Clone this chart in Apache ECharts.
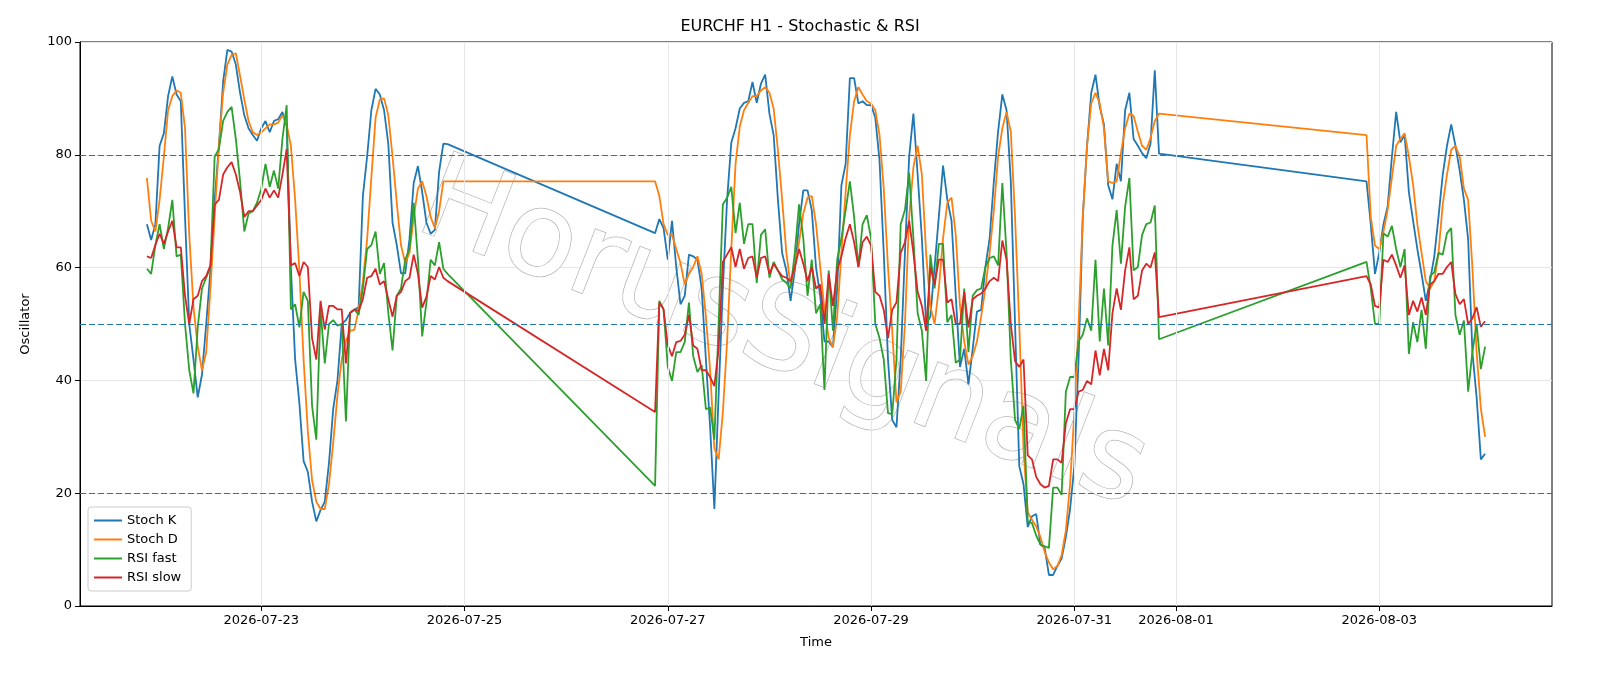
<!DOCTYPE html>
<html>
<head>
<meta charset="UTF-8" />
<title>EURCHF H1 - Stochastic & RSI</title>
<style>
  html, body { margin: 0; padding: 0; overflow: hidden; }
  #main { width: 100vw; height: 100vh; background: #fff; }
</style>
</head>
<body>
<div id="main"></div>
<script src="https://cdn.jsdelivr.net/npm/echarts@6/dist/echarts.min.js"></script>
<script>
// hourly bars, three trading blocks (weekends skipped)
const segmentStarts = ["2026-07-21T21:00:00Z", "2026-07-26T21:00:00Z", "2026-08-02T21:00:00Z"];

const stochK = [
  // block 1
  67.7, 64.9, 67.7, 81.6, 83.8, 90.4, 93.9, 90.7, 89.5, 69, 50, 43.7, 37, 41, 50, 59.5, 72, 81.6, 93, 98.6,
  98.3, 96, 91, 87, 84.7, 83.5, 82.5, 84.7, 86, 84, 86, 86.3, 87.6, 85,
  60, 43.7, 36, 25.7, 23.8, 18.5, 15, 17, 18.5, 25.4, 35, 40, 50, 50.7, 52, 52.5, 53, 72.7, 79.7, 87.9,
  91.7, 90.7, 87.9, 82, 68, 64, 59, 59, 65, 75, 78, 73.4, 68, 66, 66.7, 77, 82, 81.9,
  // block 2
  66.1, 68.6, 67, 61.4, 68.3, 60.1, 53.5, 55, 62.3, 62, 61.4, 56.3, 43.7, 31.7, 17.2, 37.4, 56.3, 72, 82.2, 84.7,
  88.2, 89.2, 89.5, 92.9, 89.2, 92.6, 94.2,
  87.3, 83.5, 72.1, 62.6, 59.5, 54.1, 59.5, 67.7, 73.7, 73.7, 70.2, 60.1, 55, 46.9, 46.9, 45.9, 56.3, 74.6, 78.4, 93.6,
  93.6, 89.1, 89.5, 88.8, 88.8, 86.6, 79, 62.6, 43.7, 33,
  31.7, 43.7, 62.6, 79.7, 87.3, 76.5, 65.2, 50, 51.3, 60.1, 69, 78.1, 72.1, 68.3, 55, 42.4, 45.6, 39.3, 45.6, 52.2,
  52.5, 60.1, 65.2, 75.3, 84.1, 90.7, 87.9, 75.3, 50, 24.8,
  21.6, 14, 15.9, 16.3, 10.9, 10.3, 5.5, 5.5, 7.1, 8.4, 12.2, 17.2, 24.8, 43.7, 69, 81.6, 91, 94.2, 88.5, 85.4,
  74.6, 72.1, 78.4, 75.3, 87.9, 91, 82.8, 81.6, 80.3, 79.4, 82, 95, 80.2,
  // block 3
  75.3, 67.7, 58.9, 62.6, 67.7, 70.9, 79.7, 87.6, 82.2, 83.5, 73.4, 68.3, 63.3, 58.9, 54.1, 57.6, 62, 69, 76.5, 81.6,
  85.4, 81.6, 77.2, 72, 65, 45, 37, 26, 27
];
const stochD = [
  75.9, 68.3, 66.4, 72, 79.7, 87.9, 90.4, 91.4, 91, 84.7, 65.8, 53, 46, 41.8, 45, 56.3, 69, 81.6, 91, 96,
  97.7, 98, 94, 89.8, 86, 84, 83.5, 84, 84.7, 85.4, 85.4, 85.7, 87, 85.4,
  81.6, 72, 59.5, 43.7, 31, 22.3, 18.5, 17.2, 17.2, 21.6, 29, 37.4, 43.7, 47, 48.8, 49, 52.5, 57.6, 65, 76,
  86.6, 89.8, 90, 87, 79.7, 71.5, 64, 60.8, 62.6, 69, 74, 75.3, 72.7, 69, 67, 70, 75.3, 75.3,
  75.3, 72.7, 67.7, 65.8, 65.8, 63.3, 60.8, 57, 58.9, 60.1, 62, 58.9, 51.3, 41.8, 28, 26, 34.3, 46.8, 63.3, 78.4,
  85, 87.9, 89.2, 90.4, 90.4, 91.4, 92,
  91, 88.2, 80.9, 72.1, 62.6, 56.9, 60.1, 64.5, 69.6, 72.4, 72.7, 67.7, 60.1, 52.5, 47.5, 45.9, 51.3, 62.6, 73.4, 83.5,
  89.5, 92, 90.7, 89.5, 89.1, 87.9, 83.5, 74, 60.1, 48.8,
  36.1, 38, 50, 69, 77.8, 81.6, 76.5, 62.6, 53.2, 50, 56.3, 65.2, 71.5, 72.4, 65.8, 53.2, 46.9, 42.8, 44.3, 46.9,
  51.3, 56.3, 62.6, 70.2, 79.7, 84.7, 87.6, 84.1, 69, 50,
  27.9, 16.6, 15.3, 14.1, 12.2, 9.6, 7.7, 6.5, 7.1, 9, 13.4, 21.6, 34.2, 50, 69, 81.6, 89.1, 91, 89.1, 84.7,
  75.3, 75, 75.3, 80.3, 84.7, 87.3, 86.9, 84.1, 81.6, 80.9, 83, 86, 87.3,
  83.5, 69, 63.9, 63.3, 66.4, 70.3, 76, 81.6, 82.8, 83.8, 79.7, 74.7, 67.7, 62.6, 57.6, 56.3, 57.6, 62.6, 71.2, 76.5,
  80.9, 81.6, 79.7, 74, 72, 60, 45, 35, 30
];
const rsiFast = [
  59.8, 58.9, 64, 67.7, 63.3, 67, 72, 62, 62.3, 50, 41.8, 37.7, 49.4, 56.3, 58.2, 60.1, 79.7, 81, 86, 87.6,
  88.5, 82.8, 75.3, 66.4, 69.6, 70, 71.5, 74, 78.4, 74.3, 77.2, 74, 82.8, 88.8,
  52.6, 53.5, 49.4, 55.7, 54.1, 35.5, 29.5, 52.6, 43, 50, 50.7, 49.7, 50, 32.7, 52, 52.6, 51.6, 56.3, 63.3, 64,
  66.4, 58.9, 60.8, 52, 45.3, 55, 56.3, 61.4, 63.3, 71.5, 61.4, 47.8, 53.8, 61.4, 60.4, 64.5, 59.8, 58.9,
  21.3, 54.1, 52.6, 42.4, 39.9, 45, 45, 46.8, 53.8, 44.3, 41.5, 42.7, 34.9, 35.2, 29.5, 50, 71.2, 72.4, 74.3, 66.1,
  71.5, 64.2, 67.7, 67.7, 57.3, 65.8, 66.8,
  58.2, 61, 59.5, 57.9, 57.3, 56.3, 62.6, 71.2, 65.2, 55, 61.4, 51.9, 53.5, 38.3, 59.5, 48.8, 61.4, 65.2, 70.2, 75.3,
  69, 60.1, 67.7, 69.3, 65.2, 50, 47.5, 43.7, 34.2, 34,
  43.7, 67.7, 70.2, 76.8, 65.2, 51.9, 48.8, 39.9, 62.3, 56.3, 64.2, 64.2, 50.3, 51.6, 43.1, 43.7, 56.3, 45, 55, 56,
  56.3, 60.1, 61.7, 62, 60.4, 75, 62.6, 43.7, 33, 31.4,
  35.5, 15, 14.7, 12.5, 10.9, 10.6, 10.3, 21, 21, 19.7, 38, 40.6, 40.6, 46.9, 48.1, 51, 48.8, 61.4, 46.9, 56.3,
  46.2, 63.9, 70.2, 60.7, 70.8, 75.9, 59.5, 60.1, 65.8, 67.7, 68, 71, 47.3,
  61, 56.3, 50, 50, 66.1, 65.5, 67.4, 63.3, 60.1, 63.3, 44.7, 50.3, 46.8, 52.5, 45.6, 58.5, 59.2, 62.6, 62.3, 66.1,
  67, 51.6, 48.1, 50.6, 38, 45, 50, 42, 46
];
const rsiSlow = [
  62, 61.7, 64, 66, 64.2, 66.4, 68.3, 63.6, 63.6, 55, 50, 54.4, 55, 57.6, 58.5, 60.4, 71.2, 72, 76.5, 77.8,
  78.7, 76.5, 73.4, 69, 70, 70, 71, 72, 74, 72.4, 73.7, 72.4, 76.5, 81,
  60.4, 60.8, 58.5, 61, 60.1, 47.5, 43.7, 54.1, 49, 53.2, 53.2, 52.6, 52.6, 43, 52, 52.6, 52.3, 54.4, 58.2, 58.5,
  59.8, 57, 57.6, 54.4, 51.3, 55, 55.7, 57.6, 58.2, 62.3, 58.9, 52.9, 54.8, 58.5, 57.9, 60.1, 58.2, 57.6,
  34.4, 53.8, 52.6, 46.2, 44.3, 46.8, 47, 48.1, 51.6, 46.2, 45.6, 41.8, 41.8, 40.6, 39, 45.6, 61, 62.3, 63.6, 60.1,
  63.3, 59.8, 61.7, 62, 58.2, 61.7, 62,
  58.9, 60.7, 59.5, 58.5, 58.2, 57.6, 60.1, 63.3, 60.7, 57.6, 60.1, 56.3, 57, 50, 58.9, 53.2, 59.5, 62, 65.2, 67.7,
  64.5, 60.1, 64.5, 65.5, 63.9, 55.7, 55, 52.5, 47.5, 52.5,
  53.8, 62.6, 64.5, 68.3, 62.6, 55.7, 53.2, 48.8, 60.1, 57, 61.4, 61.4, 53.8, 54.4, 50, 50, 55.7, 49.4, 54.4, 55,
  55.4, 56.3, 57.6, 58.2, 57.6, 64.8, 61.4, 50, 43.4, 42.4,
  43.7, 26.7, 26, 22.9, 21.6, 21, 21.3, 26, 26, 25.4, 32.4, 34.9, 34.9, 38, 38.3, 39.9, 39.3, 45.3, 40.9, 45.6,
  41.8, 51.9, 56.3, 52.5, 59.5, 63.6, 54.4, 55, 59.5, 60.7, 60, 62.7, 51.2,
  58.5, 57, 53.2, 52.9, 61.4, 61, 62.3, 60.4, 58.2, 60.4, 51.6, 54.1, 52.2, 54.7, 51.6, 57, 57.6, 58.9, 58.9, 60.1,
  61, 55.3, 53.5, 54.4, 50, 51, 53, 49.5, 50.5
];
const segmentLengths = [72, 120, 29];
const xTickLabels = ["2026-07-23", "2026-07-25", "2026-07-27", "2026-07-29", "2026-07-31", "2026-08-01", "2026-08-03"];
const levels = [20, 50, 80];

const HOUR = 3600 * 1000;
const times = [];
segmentStarts.forEach((s, i) => {
  const t0 = Date.parse(s);
  for (let h = 0; h < segmentLengths[i]; h++) times.push(t0 + h * HOUR);
});
const pair = (arr) => arr.map((v, i) => [times[i], v]);

const tickTimes = xTickLabels.map((d) => Date.parse(d + "T00:00:00Z"));
const span = times[times.length - 1] - times[0];
const xMin = times[0] - span * 0.05;
const xMax = times[times.length - 1] + span * 0.05;

const chart = echarts.init(document.getElementById("main"));
const lineSeries = (name, data, color) => ({
  name, type: "line", data: pair(data), showSymbol: false, symbol: "none",
  lineStyle: { color, width: 1.8 }, itemStyle: { color }, z: 3, animation: false
});

chart.setOption({
  animation: false,
  title: {
    text: "EURCHF H1 - Stochastic & RSI", left: "center", top: 14,
    textStyle: { fontFamily: "DejaVu Sans", fontWeight: "normal", fontSize: 16, color: "#000" }
  },
  graphic: [{
    type: "text", x: 782, y: 338, rotation: -0.37, z: 1,
    style: {
      text: "HorusSignals", fontFamily: "DejaVu Sans", fontSize: 118,
      fill: "#ffffff", stroke: "#b5b5b5", lineWidth: 1.5,
      textAlign: "center", textVerticalAlign: "middle",
      shadowColor: "rgba(0,0,0,0.35)", shadowOffsetX: 3, shadowOffsetY: 4, shadowBlur: 3
    }
  }],
  legend: {
    data: ["Stoch K", "Stoch D", "RSI fast", "RSI slow"],
    orient: "vertical", left: 88, top: 507, itemGap: 6,
    itemWidth: 28, itemHeight: 2, icon: "rect",
    padding: [7, 10, 7, 6], backgroundColor: "rgba(255,255,255,0.85)",
    borderColor: "#ccc", borderWidth: 1, borderRadius: 3,
    textStyle: { fontFamily: "DejaVu Sans", fontSize: 13, color: "#000" }
  },
  grid: { left: 80, right: 48, top: 42, bottom: 80, show: true, borderColor: "#000", borderWidth: 1 },
  xAxis: {
    type: "value", min: xMin, max: xMax,
    name: "Time", nameLocation: "middle", nameGap: 30,
    nameTextStyle: { fontFamily: "DejaVu Sans", fontSize: 13, color: "#000" },
    axisLine: { onZero: false, lineStyle: { color: "#000" } },
    axisTick: { customValues: tickTimes, length: 5, lineStyle: { color: "#000" } },
    axisLabel: {
      customValues: tickTimes, color: "#000", fontFamily: "DejaVu Sans", fontSize: 13, margin: 8,
      formatter: (v) => new Date(v).toISOString().slice(0, 10)
    },
    splitLine: { show: false }
  },
  yAxis: {
    type: "value", min: 0, max: 100, interval: 20,
    name: "Oscillator", nameLocation: "middle", nameGap: 48,
    nameTextStyle: { fontFamily: "DejaVu Sans", fontSize: 13, color: "#000" },
    axisLine: { show: true, lineStyle: { color: "#000" } },
    axisTick: { show: true, length: 5, lineStyle: { color: "#000" } },
    axisLabel: { color: "#000", fontFamily: "DejaVu Sans", fontSize: 13 },
    splitLine: { show: true, lineStyle: { color: "#e6e6e6", width: 1 } }
  },
  series: [
    {
      name: "grid", type: "line", data: [], silent: true,
      markLine: {
        symbol: "none", silent: true, label: { show: false }, animation: false,
        lineStyle: { color: "#e6e6e6", width: 1, type: "solid" },
        data: tickTimes.map((t) => ({ xAxis: t }))
      }
    },
    {
      name: "levels", type: "line", data: [], silent: true,
      markLine: {
        symbol: "none", silent: true, label: { show: false }, animation: false,
        lineStyle: { color: "#1f77b4", width: 1.2, type: [6, 3] },
        data: levels.map((v) => ({ yAxis: v }))
      }
    },
    lineSeries("Stoch K", stochK, "#1f77b4"),
    lineSeries("Stoch D", stochD, "#ff7f0e"),
    lineSeries("RSI fast", rsiFast, "#2ca02c"),
    lineSeries("RSI slow", rsiSlow, "#d62728")
  ]
});
</script>
</body>
</html>
